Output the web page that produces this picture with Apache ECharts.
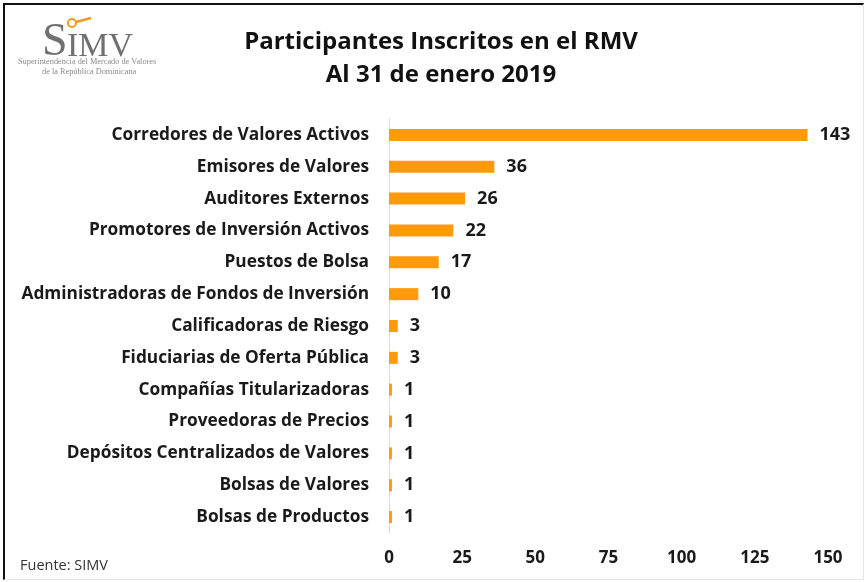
<!DOCTYPE html>
<html>
<head>
<meta charset="utf-8">
<script src="https://cdn.jsdelivr.net/npm/echarts@6/dist/echarts.min.js"></script>
<style>
  html, body { margin: 0; padding: 0; background: #fff; }
  #chart {
    position: absolute; left: 0; top: 0;
    width: 865px; height: 582px;
  }
  #frame {
    position: absolute; left: 3px; top: 3px;
    width: 858px; height: 574px;
    border-left: 2px solid #111; border-top: 2px solid #111;
    border-right: 1px solid #e4e4e4; border-bottom: 1px solid #e4e4e4;
    pointer-events: none;
  }
</style>
</head>
<body>
<div id="chart"></div>
<div id="frame"></div>
<script>
// categorias en el orden del grafico (de arriba hacia abajo)
const categorias = [
  'Corredores de Valores Activos',
  'Emisores de Valores',
  'Auditores Externos',
  'Promotores de Inversión Activos',
  'Puestos de Bolsa',
  'Administradoras de Fondos de Inversión',
  'Calificadoras de Riesgo',
  'Fiduciarias de Oferta Pública',
  'Compañías Titularizadoras',
  'Proveedoras de Precios',
  'Depósitos Centralizados de Valores',
  'Bolsas de Valores',
  'Bolsas de Productos'
];
const participantes = [143, 36, 26, 22, 17, 10, 3, 3, 1, 1, 1, 1, 1];
const ejeMin = 0;
const ejeMax = 150;
const ejeIntervalo = 25;

const fuente = '"Open Sans", "Liberation Sans", sans-serif';

let myChart = echarts.init(document.getElementById('chart'));
let options = {
  backgroundColor: '#fff',
  animation: false,
  title: {
    text: 'Participantes Inscritos en el RMV\nAl 31 de enero 2019',
    left: 436,
    top: 21,
    textAlign: 'center',
    textStyle: {
      fontFamily: fuente,
      fontSize: 24,
      fontWeight: 'bold',
      color: '#111',
      lineHeight: 33
    }
  },
  grid: {
    left: 389,
    right: 37,
    top: 119,
    height: 414
  },
  xAxis: {
    type: 'value',
    min: ejeMin,
    max: ejeMax,
    interval: ejeIntervalo,
    splitLine: { show: false },
    axisLine: { show: false },
    axisTick: { show: false },
    axisLabel: {
      margin: 17,
      fontFamily: fuente,
      fontSize: 17,
      fontWeight: 'bold',
      color: '#1a1a1a'
    }
  },
  yAxis: {
    type: 'category',
    inverse: true,
    data: categorias,
    axisLine: { show: true, lineStyle: { color: '#d9d9d9', width: 1 } },
    axisTick: { show: false },
    axisLabel: {
      margin: 20,
      fontFamily: fuente,
      fontSize: 17.3,
      fontWeight: 'bold',
      color: '#1a1a1a'
    }
  },
  series: [
    {
      type: 'bar',
      data: participantes,
      barWidth: 12,
      itemStyle: { color: '#ff9a0a' },
      label: {
        show: true,
        position: 'right',
        distance: 12,
        fontFamily: fuente,
        fontSize: 18,
        fontWeight: 'bold',
        color: '#1a1a1a'
      }
    }
  ],
  graphic: [
    {
      type: 'text', left: 42, top: 20,
      style: { text: 'S', font: '46px "Liberation Serif", serif', fill: '#707070' }
    },
    {
      type: 'text', left: 67, top: 30,
      style: { text: 'IMV', font: '34px "Liberation Serif", serif', fill: '#707070' }
    },
    {
      type: 'circle', shape: { cx: 72, cy: 23, r: 4 },
      style: { fill: 'none', stroke: '#f39a1e', lineWidth: 2 }
    },
    {
      type: 'line', shape: { x1: 76, y1: 22, x2: 91, y2: 18 },
      style: { stroke: '#f39a1e', lineWidth: 2.5 }
    },
    {
      type: 'text', left: 18, top: 58,
      style: { text: 'Superintendencia del Mercado de Valores', font: '8.3px "Liberation Serif", serif', fill: '#8a8a8a' }
    },
    {
      type: 'text', left: 42, top: 68,
      style: { text: 'de la República Dominicana', font: '8.3px "Liberation Serif", serif', fill: '#8a8a8a' }
    },
    {
      type: 'text', left: 20, top: 558,
      style: { text: 'Fuente: SIMV', font: '14.5px ' + fuente, fill: '#333' }
    }
  ]
};
myChart.setOption(options);
</script>
</body>
</html>
